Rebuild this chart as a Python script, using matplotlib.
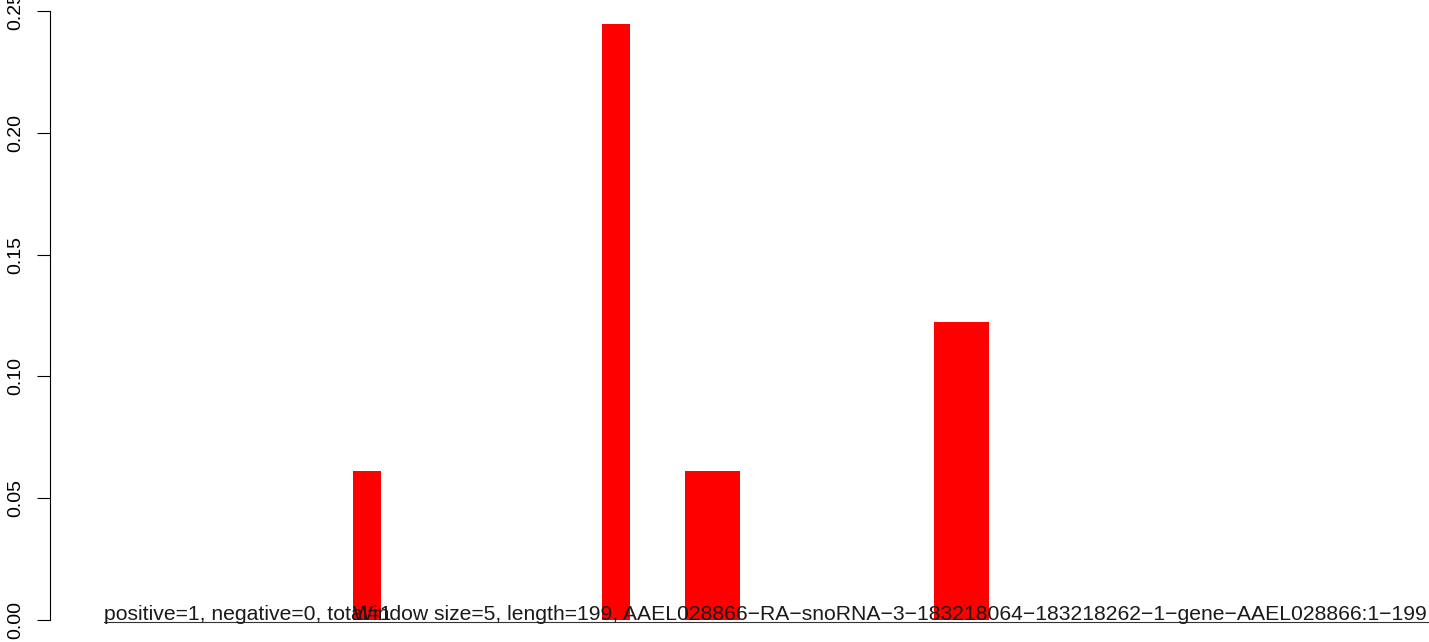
import numpy as np
import matplotlib
matplotlib.use("Agg")
import matplotlib.pyplot as plt

plt.rcParams['font.family'] = ['Liberation Sans', 'DejaVu Sans']

# window bins along the sequence (199 nt, window size 5)
n_bins = 40
hit_bins = [9, 18, 21, 22, 30, 31]
hit_values = [0.0612, 0.2449, 0.0612, 0.0612, 0.1224, 0.1224]
y_ticks = [0.00, 0.05, 0.10, 0.15, 0.20, 0.25]
y_tick_labels = ['0.00', '0.05', '0.10', '0.15', '0.20', '0.25']

counts_text = 'positive=1, negative=0, total=1'
info_text = ('Window size=5, length=199, '
             'AAEL028866\u2212RA\u2212snoRNA\u22123\u2212183218064\u2212183218262'
             '\u22121\u2212gene\u2212AAEL028866:1\u2212199')

heights = np.zeros(n_bins)
heights[hit_bins] = hit_values

fig = plt.figure(figsize=(14.29, 6.42), dpi=100)
ax = fig.add_axes([0, 0, 1, 1])

ax.bar(np.arange(n_bins), heights, width=1.0, align='edge', color='#ff0000', linewidth=0)

ax.set_xlim(-3.76, 47.89)
ax.set_ylim(-0.00903, 0.2546)

# R-style left axis, only spanning the tick range
for s in ['top', 'right', 'bottom']:
    ax.spines[s].set_visible(False)
ax.spines['left'].set_position(('data', -1.95))
ax.spines['left'].set_bounds(0, 0.25)
ax.spines['left'].set_linewidth(0.8)
ax.set_xticks([])
ax.set_yticks(y_ticks)
ax.set_yticklabels(y_tick_labels, rotation=90, va='center', fontsize=14)
ax.tick_params(axis='y', direction='out', length=9.4, width=0.8, pad=9.5)

ax.plot([0, 48], [-0.0007, -0.0007], color='#333333', linewidth=0.8, zorder=3)
ax.text(0, 0.0002, counts_text, fontsize=15.2, color='#1a1a1a', va='baseline', ha='left', zorder=4)
ax.text(9, 0.0002, info_text, fontsize=15.2, color='#1a1a1a', va='baseline', ha='left', zorder=4)

fig.savefig('out.png', dpi=100)
